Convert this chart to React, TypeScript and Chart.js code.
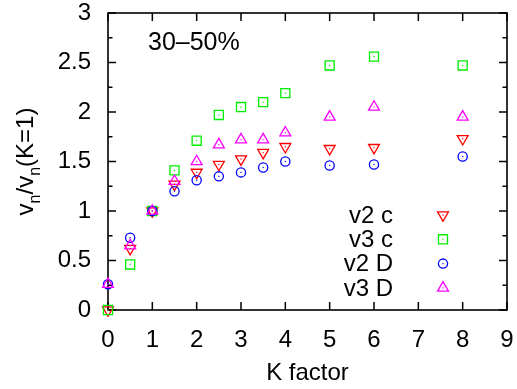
import React, { useEffect, useRef } from "react";
import { Chart, registerables } from "chart.js";

Chart.register(...registerables);

const kFactor = [0, 0.5, 1, 1.5, 2, 2.5, 3, 3.5, 4, 5, 6, 8];
const v2c = [0, 0.62, 1, 1.27, 1.39, 1.47, 1.525, 1.59, 1.65, 1.63, 1.64, 1.73];
const v3c = [0, 0.46, 1, 1.41, 1.71, 1.97, 2.05, 2.1, 2.19, 2.47, 2.56, 2.47];
const v2D = [0.26, 0.73, 1, 1.2, 1.31, 1.35, 1.39, 1.44, 1.5, 1.46, 1.47, 1.55];
const v3D = [0.26, 0.65, 1, 1.3, 1.5, 1.67, 1.72, 1.72, 1.79, 1.95, 2.05, 1.95];

const seriesLabels = ["v2 c", "v3 c", "v2 D", "v3 D"];
const xTickLabels = ["0", "1", "2", "3", "4", "5", "6", "7", "8", "9"];
const yTickLabels = ["0", "0.5", "1", "1.5", "2", "2.5", "3"];
const centralityLabel = "30\u201350%";
const xTitle = "K factor";

const FONT = "'Liberation Sans', Arial, Helvetica, sans-serif";
const BIG = 24;

const toPts = (ys: number[]) => ys.map((y, i) => ({ x: kFactor[i], y }));

const framePlugin = {
  id: "frame",
  beforeDatasetsDraw(chart: any) {
    const { ctx, chartArea: a, scales } = chart;
    const xs = scales.x;
    const ys = scales.y;
    ctx.save();
    ctx.strokeStyle = "#000";
    ctx.lineWidth = 1.5;
    ctx.beginPath();
    const major = 8;
    const minor = 4.5;
    for (let v = 0; v <= 9; v += 1) {
      const px = xs.getPixelForValue(v);
      ctx.moveTo(px, a.bottom);
      ctx.lineTo(px, a.bottom - major);
      ctx.moveTo(px, a.top);
      ctx.lineTo(px, a.top + major);
    }
    for (let k = 0; k <= 12; k++) {
      const v = k * 0.25;
      const py = ys.getPixelForValue(v);
      const len = k % 2 === 0 ? major : minor;
      ctx.moveTo(a.left, py);
      ctx.lineTo(a.left + len, py);
      ctx.moveTo(a.right, py);
      ctx.lineTo(a.right - len, py);
    }
    ctx.stroke();
    ctx.lineWidth = 1.6;
    ctx.strokeRect(a.left, a.top, a.right - a.left, a.bottom - a.top);
    ctx.restore();
  },
};

const drawMarker = (ctx: any, style: string, rot: number, x: number, y: number, r: number, color: string) => {
  ctx.save();
  ctx.strokeStyle = color;
  ctx.lineWidth = 1.3;
  ctx.beginPath();
  if (style === "rect") {
    const s = r * Math.SQRT1_2;
    ctx.rect(x - s, y - s, 2 * s, 2 * s);
  } else if (style === "circle") {
    ctx.arc(x, y, r, 0, Math.PI * 2);
  } else {
    let rad = (rot * Math.PI) / 180;
    ctx.moveTo(x + Math.sin(rad) * r, y - Math.cos(rad) * r);
    rad += (2 * Math.PI) / 3;
    ctx.lineTo(x + Math.sin(rad) * r, y - Math.cos(rad) * r);
    rad += (2 * Math.PI) / 3;
    ctx.lineTo(x + Math.sin(rad) * r, y - Math.cos(rad) * r);
    ctx.closePath();
  }
  ctx.stroke();
  ctx.fillStyle = color;
  ctx.fillRect(x - 0.6, y - 0.6, 1.2, 1.2);
  ctx.restore();
};

const decorPlugin = {
  id: "decor",
  afterDatasetsDraw(chart: any) {
    const { ctx, chartArea: a } = chart;
    // center dots
    chart.data.datasets.forEach((ds: any, i: number) => {
      const meta = chart.getDatasetMeta(i);
      ctx.save();
      ctx.fillStyle = ds.borderColor;
      meta.data.forEach((p: any) => {
        ctx.fillRect(p.x - 0.6, p.y - 0.6, 1.2, 1.2);
      });
      ctx.restore();
    });
    ctx.save();
    ctx.fillStyle = "#000";
    ctx.font = `25px ${FONT}`;
    // centrality label
    ctx.textAlign = "left";
    ctx.textBaseline = "middle";
    ctx.fillText(centralityLabel, a.left + 40, a.top + 30);
    // legend
    ctx.font = `${BIG}px ${FONT}`;
    const textRight = a.left + 285;
    const markX = a.left + 335;
    const row0 = a.top + 202;
    const rowH = 24.3;
    chart.data.datasets.forEach((ds: any, i: number) => {
      const y = row0 + i * rowH;
      ctx.fillStyle = "#000";
      ctx.textAlign = "right";
      ctx.textBaseline = "middle";
      ctx.fillText(ds.label, textRight, y + 1);
      drawMarker(ctx, ds.pointStyle, ds.pointRotation || 0, markX, y, ds.pointRadius, ds.borderColor);
    });
    ctx.restore();
    // y title with subscripts
    ctx.save();
    const cx = 33;
    const cy = (a.top + a.bottom) / 2;
    ctx.translate(cx, cy);
    ctx.rotate(-Math.PI / 2);
    ctx.fillStyle = "#000";
    ctx.textBaseline = "alphabetic";
    ctx.textAlign = "left";
    const SUB = 16;
    const parts: [string, boolean][] = [
      ["v", false],
      ["n", true],
      ["/v", false],
      ["n", true],
      ["(K=1)", false],
    ];
    let total = 0;
    parts.forEach(([t, sub]) => {
      ctx.font = `${sub ? SUB : BIG}px ${FONT}`;
      total += ctx.measureText(t).width;
    });
    let xx = -total / 2;
    parts.forEach(([t, sub]) => {
      ctx.font = `${sub ? SUB : BIG}px ${FONT}`;
      ctx.fillText(t, xx, sub ? 7 : 0);
      xx += ctx.measureText(t).width;
    });
    ctx.restore();
  },
};

export default function App() {
  const ref = useRef<HTMLCanvasElement | null>(null);
  useEffect(() => {
    if (!ref.current) return;
    const common = {
      showLine: false,
      backgroundColor: "rgba(0,0,0,0)",
      borderWidth: 1.3,
      clip: false as any,
    };
    const chart = new Chart(ref.current, {
      type: "scatter",
      data: {
        datasets: [
          { ...common, label: seriesLabels[0], data: toPts(v2c), borderColor: "#ff0000", pointStyle: "triangle", pointRotation: 180, pointRadius: 6.3, order: 3 },
          { ...common, label: seriesLabels[1], data: toPts(v3c), borderColor: "#00ee00", pointStyle: "rect", pointRadius: 6.4, order: 2 },
          { ...common, label: seriesLabels[2], data: toPts(v2D), borderColor: "#0000ff", pointStyle: "circle", pointRadius: 4.6, order: 1 },
          { ...common, label: seriesLabels[3], data: toPts(v3D), borderColor: "#ff00ff", pointStyle: "triangle", pointRotation: 0, pointRadius: 6.3, order: 0 },
        ] as any,
      },
      options: {
        responsive: false,
        animation: false,
        layout: { padding: { left: 0, right: 10, top: 13, bottom: 0 } },
        plugins: { legend: { display: false }, tooltip: { enabled: false } },
        scales: {
          x: {
            type: "linear",
            min: 0,
            max: 9,
            grid: { display: false, drawTicks: false },
            border: { display: false },
            ticks: {
              stepSize: 1,
              padding: 16,
              color: "#000",
              font: { family: FONT, size: BIG },
              maxRotation: 0,
              autoSkip: false,
              callback: (v: any) => xTickLabels[Math.round(Number(v))] ?? "",
            },
            title: {
              display: true,
              text: xTitle,
              color: "#000",
              font: { family: FONT, size: BIG },
              padding: { top: 0, bottom: 1 },
            },
            afterFit: (s: any) => {
              s.height = 79;
              s.paddingLeft = 0;
              s.paddingRight = 0;
            },
          },
          y: {
            type: "linear",
            min: 0,
            max: 3,
            grid: { display: false, drawTicks: false },
            border: { display: false },
            ticks: {
              stepSize: 0.5,
              padding: 17,
              color: "#000",
              font: { family: FONT, size: BIG },
              callback: (v: any) => yTickLabels[Math.round(Number(v) * 2)] ?? "",
            },
            afterFit: (s: any) => {
              s.width = 108;
              s.paddingTop = 0;
              s.paddingBottom = 0;
            },
          },
        },
      },
      plugins: [framePlugin, decorPlugin],
    });
    return () => chart.destroy();
  }, []);
  return (
    <div style={{ position: "absolute", left: 0, top: 0, width: 517, height: 389, background: "#fff" }}>
      <canvas ref={ref} width={517} height={389} />
    </div>
  );
}
